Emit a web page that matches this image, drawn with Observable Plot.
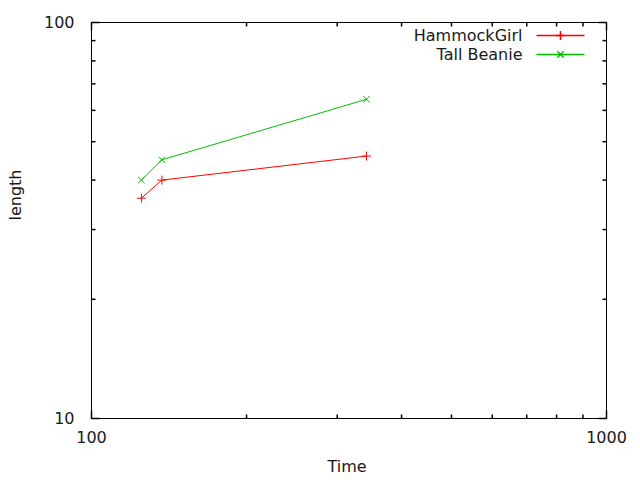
<!DOCTYPE html>
<html>
<head>
<meta charset="utf-8">
<script src="https://cdn.jsdelivr.net/npm/d3@7"></script>
<script src="https://cdn.jsdelivr.net/npm/@observablehq/plot@0.6"></script>
<style>
  html, body { margin: 0; padding: 0; background: #fff; }
</style>
</head>
<body>
<div id="chart"></div>
<script>
// ---- data ----
const seriesNames = ["HammockGirl", "Tall Beanie"];
const seriesColors = ["#ff0000", "#00c000"];
const seriesSymbols = ["plus", "times"];
const times = [125, 137, 342];
const hammockGirl = [36, 40, 46];
const tallBeanie = [40, 45, 64];
const xMajorTicks = [100, 1000];
const xMinorTicks = [200, 300, 400, 500, 600, 700, 800, 900];
const yMajorTicks = [10, 100];
const yMinorTicks = [20, 30, 40, 50, 60, 70, 80, 90];
const xLabel = "Time";
const yLabel = "length";

const rows = [];
[hammockGirl, tallBeanie].forEach((vals, i) => {
  vals.forEach((v, j) => rows.push({series: seriesNames[i], time: times[j], length: v}));
});

const FS = 16;
const TEXT = "#1a1a1a";

// tick glyphs (inward ticks)
const tick = (dx, dy) => ({draw(ctx) { ctx.moveTo(0, 0); ctx.lineTo(dx, dy); }});
const minorLen = 4, majorLen = 8;
const tickMarks = [];
for (const [vals, len] of [[xMinorTicks, minorLen], [xMajorTicks, majorLen]]) {
  tickMarks.push(Plot.dot(vals, {x: d => d, frameAnchor: "bottom", symbol: tick(0, -len), fill: "none", stroke: "#000"}));
  tickMarks.push(Plot.dot(vals, {x: d => d, frameAnchor: "top", symbol: tick(0, len), fill: "none", stroke: "#000"}));
}
for (const [vals, len] of [[yMinorTicks, minorLen], [yMajorTicks, majorLen]]) {
  tickMarks.push(Plot.dot(vals, {y: d => d, frameAnchor: "left", symbol: tick(len, 0), fill: "none", stroke: "#000"}));
  tickMarks.push(Plot.dot(vals, {y: d => d, frameAnchor: "right", symbol: tick(-len, 0), fill: "none", stroke: "#000"}));
}

// legend marks (inside top-right)
const legendMarks = [];
const legendLine = {draw(ctx) { ctx.moveTo(-24, 0); ctx.lineTo(24, 0); }};
seriesNames.forEach((name, i) => {
  const dy = 13 + 19 * i;
  legendMarks.push(Plot.text([name], {frameAnchor: "top-right", dx: -84, dy, textAnchor: "end", lineAnchor: "middle", fill: TEXT, fontSize: FS}));
  legendMarks.push(Plot.dot([name], {frameAnchor: "top-right", dx: -46, dy, symbol: legendLine, fill: "none", stroke: seriesColors[i]}));
  legendMarks.push(Plot.dot([name], {frameAnchor: "top-right", dx: -46, dy, symbol: seriesSymbols[i], r: 3, stroke: seriesColors[i]}));
});

const chart = Plot.plot({
  width: 640,
  height: 480,
  marginLeft: 91,
  marginRight: 34,
  marginTop: 22,
  marginBottom: 62,
  style: {fontFamily: "'DejaVu Sans', sans-serif", fontSize: FS + "px", color: TEXT, background: "#fff"},
  x: {type: "log", domain: [100, 1000]},
  y: {type: "log", domain: [10, 100]},
  color: {domain: seriesNames, range: seriesColors},
  symbol: {domain: seriesNames, range: seriesSymbols},
  marks: [
    Plot.frame({stroke: "#000"}),
    ...tickMarks,
    Plot.axisX(xMajorTicks, {tickSize: 0, tickPadding: 13, tickFormat: d => String(d), label: null, fontSize: FS}),
    Plot.axisY(yMajorTicks, {tickSize: 0, tickPadding: 17, tickFormat: d => String(d), label: null, fontSize: FS}),
    Plot.text([xLabel], {frameAnchor: "bottom", dx: -2, dy: 48, lineAnchor: "middle", fill: TEXT, fontSize: FS}),
    Plot.text([yLabel], {frameAnchor: "left", dx: -76, rotate: -90, lineAnchor: "middle", fill: TEXT, fontSize: FS}),
    Plot.line(rows, {x: "time", y: "length", z: "series", stroke: "series", strokeWidth: 1}),
    Plot.dot(rows, {x: "time", y: "length", symbol: "series", stroke: "series", r: 3, strokeWidth: 1}),
    ...legendMarks
  ]
});
document.getElementById("chart").appendChild(chart);
</script>
</body>
</html>
